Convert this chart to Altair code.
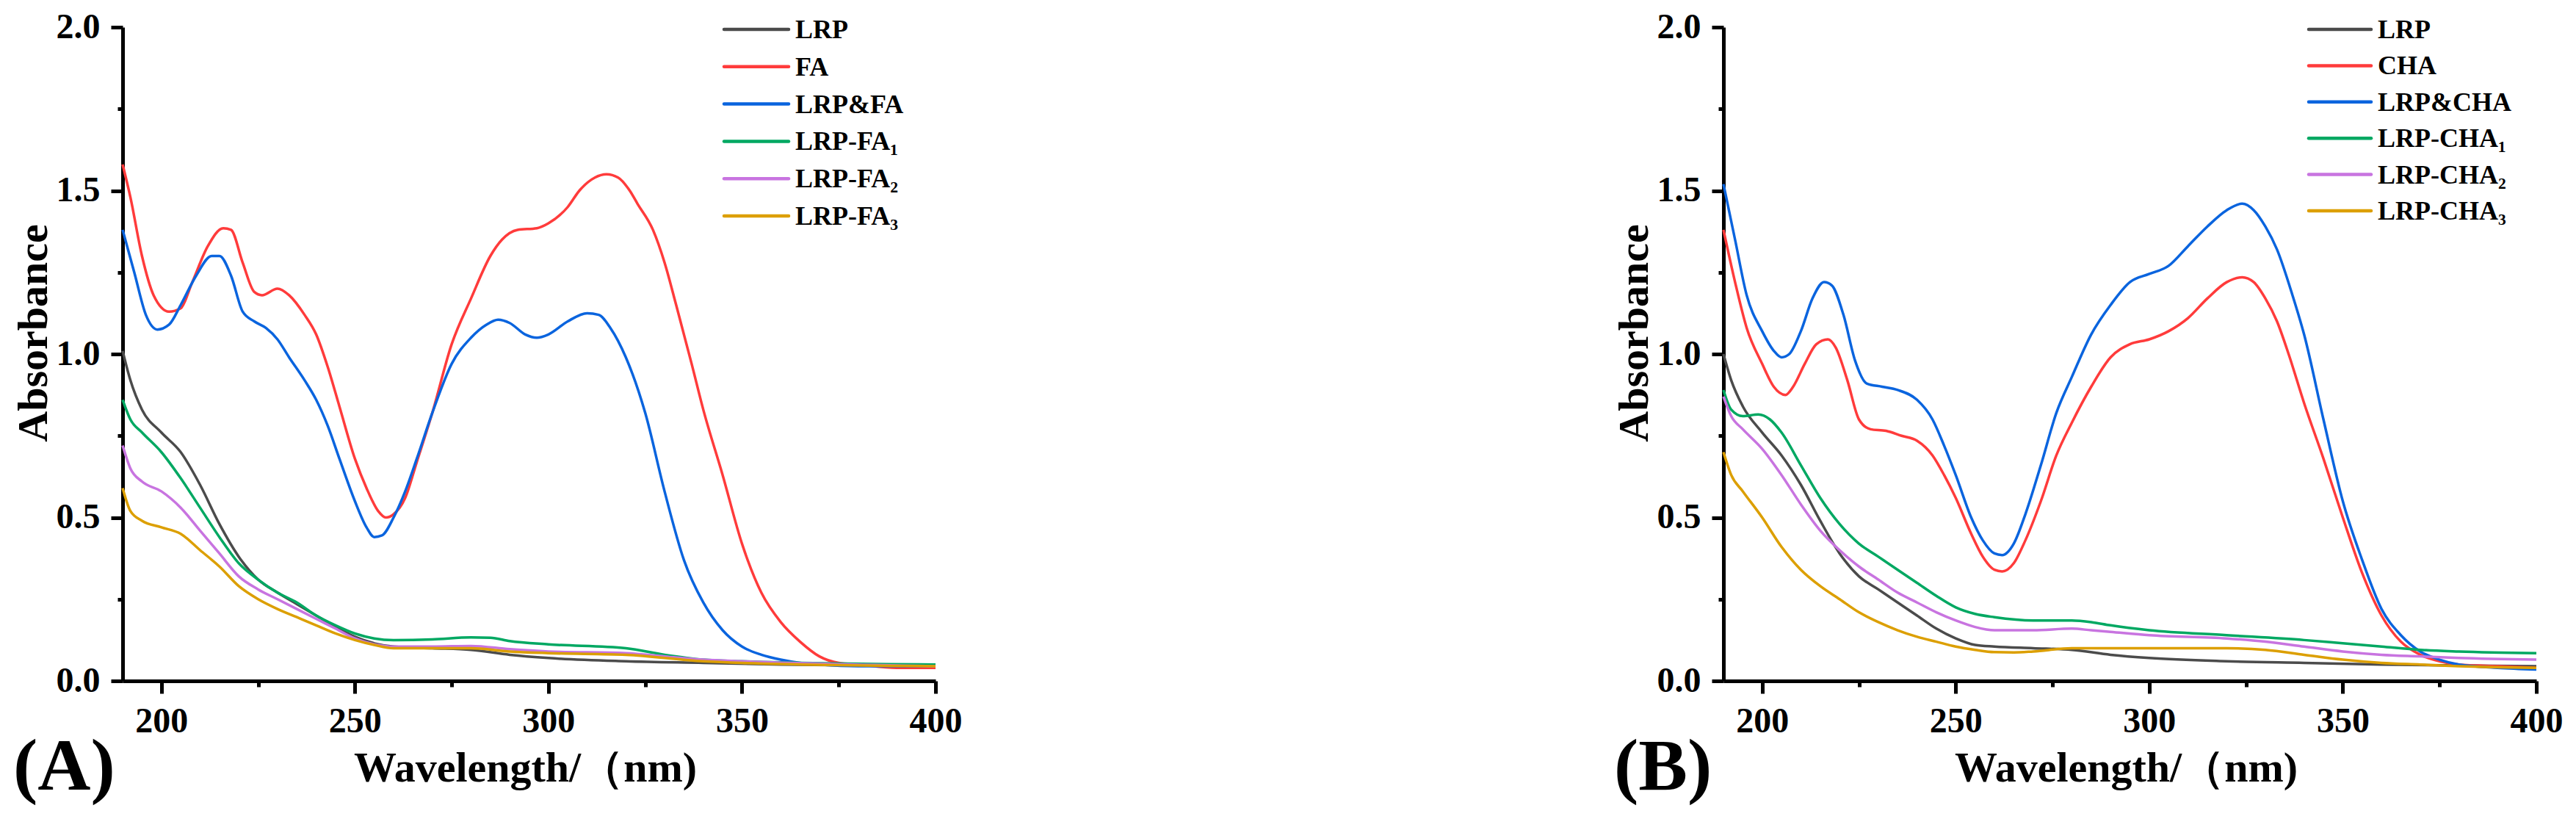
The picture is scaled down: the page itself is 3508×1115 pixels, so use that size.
import altair as alt
import pandas as pd

FONT = "Liberation Serif"

# ---------------- Panel A ----------------
names_a = ["LRP", "FA", "LRP&FA", "LRP-FA₁", "LRP-FA₂", "LRP-FA₃"]

wl_a_lrp = [190, 192, 195, 200, 205, 210, 215, 220, 225, 230, 235, 240, 245, 250, 255, 260, 270, 280, 290, 300, 320, 340, 360, 400]
ab_a_lrp = [1.01, 0.92, 0.83, 0.76, 0.70, 0.60, 0.48, 0.38, 0.31, 0.27, 0.235, 0.20, 0.165, 0.135, 0.115, 0.105, 0.10, 0.095, 0.08, 0.07, 0.06, 0.055, 0.05, 0.045]

wl_a_fa = [190, 192, 195, 198, 202, 205, 208, 212, 216, 218, 221, 224, 226, 230, 233, 237, 240, 243, 246, 250, 253, 256, 258, 260, 263, 266, 270, 275, 280, 285, 288, 292, 297, 300, 305, 308, 312, 315, 318, 321, 323, 327, 330, 333, 337, 340, 345, 350, 355, 360, 365, 370, 375, 380, 390, 400]
ab_a_fa = [1.58, 1.48, 1.30, 1.18, 1.13, 1.14, 1.22, 1.33, 1.385, 1.38, 1.28, 1.19, 1.18, 1.20, 1.18, 1.12, 1.06, 0.96, 0.84, 0.68, 0.59, 0.52, 0.50, 0.51, 0.56, 0.67, 0.82, 1.03, 1.17, 1.30, 1.35, 1.38, 1.385, 1.40, 1.45, 1.50, 1.54, 1.55, 1.54, 1.50, 1.46, 1.38, 1.28, 1.15, 0.97, 0.83, 0.63, 0.42, 0.27, 0.18, 0.12, 0.075, 0.055, 0.05, 0.04, 0.04]

wl_a_mix = [190, 193, 196, 199, 202, 205, 209, 213, 215, 218, 221, 224, 227, 230, 233, 237, 240, 243, 246, 250, 253, 255, 257, 260, 263, 266, 270, 275, 280, 284, 287, 290, 294, 297, 300, 305, 310, 313, 316, 320, 325, 330, 335, 340, 345, 350, 355, 360, 365, 370, 380, 400]
ab_a_mix = [1.38, 1.25, 1.12, 1.075, 1.09, 1.15, 1.24, 1.30, 1.30, 1.24, 1.13, 1.10, 1.08, 1.045, 0.99, 0.92, 0.86, 0.78, 0.68, 0.55, 0.47, 0.44, 0.445, 0.50, 0.58, 0.68, 0.82, 0.97, 1.05, 1.09, 1.105, 1.095, 1.06, 1.05, 1.06, 1.10, 1.125, 1.12, 1.08, 0.99, 0.82, 0.58, 0.37, 0.24, 0.155, 0.105, 0.08, 0.065, 0.055, 0.05, 0.045, 0.045]

wl_a_1 = [190, 192, 195, 200, 205, 210, 215, 220, 225, 230, 235, 240, 245, 250, 255, 260, 270, 280, 285, 290, 300, 320, 330, 340, 350, 400]
ab_a_1 = [0.86, 0.80, 0.76, 0.70, 0.62, 0.53, 0.44, 0.36, 0.31, 0.27, 0.24, 0.20, 0.17, 0.145, 0.13, 0.125, 0.127, 0.133, 0.132, 0.122, 0.112, 0.10, 0.08, 0.065, 0.06, 0.05]

wl_a_2 = [190, 192, 195, 200, 205, 210, 215, 220, 225, 230, 235, 240, 245, 250, 255, 260, 270, 280, 290, 300, 320, 330, 340, 350, 400]
ab_a_2 = [0.72, 0.65, 0.61, 0.58, 0.53, 0.46, 0.39, 0.32, 0.28, 0.25, 0.22, 0.19, 0.16, 0.13, 0.112, 0.105, 0.105, 0.107, 0.097, 0.09, 0.085, 0.075, 0.065, 0.06, 0.045]

wl_a_3 = [190, 192, 195, 200, 205, 210, 215, 220, 225, 230, 235, 240, 245, 250, 255, 260, 270, 280, 290, 300, 320, 340, 350, 400]
ab_a_3 = [0.59, 0.52, 0.49, 0.47, 0.45, 0.40, 0.35, 0.29, 0.25, 0.22, 0.195, 0.17, 0.145, 0.125, 0.11, 0.10, 0.10, 0.10, 0.09, 0.085, 0.08, 0.06, 0.055, 0.045]

# ---------------- Panel B ----------------
names_b = ["LRP", "CHA", "LRP&CHA", "LRP-CHA₁", "LRP-CHA₂", "LRP-CHA₃"]

wl_b_lrp = [190, 192, 195, 200, 205, 210, 215, 220, 225, 230, 235, 240, 245, 250, 255, 260, 270, 280, 290, 300, 320, 340, 360, 400]
ab_b_lrp = [1.00, 0.92, 0.84, 0.76, 0.69, 0.60, 0.49, 0.39, 0.32, 0.28, 0.24, 0.20, 0.16, 0.13, 0.11, 0.105, 0.10, 0.095, 0.08, 0.07, 0.06, 0.055, 0.05, 0.045]

wl_b_cha = [190, 193, 196, 200, 203, 206, 208, 211, 214, 217, 219, 222, 225, 228, 232, 236, 240, 244, 247, 250, 254, 257, 260, 262, 265, 268, 272, 276, 280, 285, 290, 295, 300, 305, 310, 315, 320, 324, 327, 330, 333, 336, 340, 345, 350, 355, 360, 365, 370, 375, 380, 390, 400]
ab_b_cha = [1.38, 1.22, 1.08, 0.97, 0.90, 0.875, 0.90, 0.97, 1.03, 1.045, 1.02, 0.92, 0.80, 0.77, 0.765, 0.75, 0.735, 0.69, 0.63, 0.56, 0.45, 0.38, 0.34, 0.335, 0.36, 0.43, 0.55, 0.69, 0.79, 0.90, 0.99, 1.03, 1.045, 1.07, 1.11, 1.17, 1.22, 1.235, 1.22, 1.17, 1.10, 1.00, 0.85, 0.68, 0.50, 0.33, 0.20, 0.12, 0.08, 0.06, 0.05, 0.045, 0.04]

wl_b_mix = [190, 193, 196, 200, 203, 205, 207, 210, 213, 216, 218, 221, 224, 227, 231, 235, 240, 244, 247, 250, 254, 257, 260, 262, 265, 268, 272, 276, 280, 285, 290, 295, 300, 305, 310, 315, 320, 324, 327, 330, 333, 337, 340, 345, 350, 355, 360, 365, 370, 375, 380, 390, 400]
ab_b_mix = [1.52, 1.35, 1.18, 1.07, 1.01, 0.99, 1.00, 1.07, 1.17, 1.22, 1.21, 1.12, 0.98, 0.91, 0.90, 0.89, 0.86, 0.80, 0.72, 0.63, 0.50, 0.43, 0.39, 0.385, 0.42, 0.51, 0.66, 0.82, 0.93, 1.06, 1.15, 1.22, 1.245, 1.27, 1.33, 1.39, 1.44, 1.46, 1.44, 1.39, 1.32, 1.18, 1.06, 0.80, 0.55, 0.37, 0.22, 0.14, 0.09, 0.065, 0.05, 0.04, 0.035]

wl_b_1 = [190, 192, 195, 199, 202, 205, 210, 215, 220, 225, 230, 235, 240, 245, 250, 255, 260, 270, 280, 285, 290, 300, 320, 340, 350, 360, 370, 380, 400]
ab_b_1 = [0.89, 0.83, 0.81, 0.815, 0.80, 0.76, 0.66, 0.56, 0.48, 0.42, 0.38, 0.34, 0.30, 0.26, 0.225, 0.205, 0.195, 0.185, 0.185, 0.18, 0.17, 0.155, 0.14, 0.125, 0.115, 0.105, 0.095, 0.09, 0.085]

wl_b_2 = [190, 192, 195, 200, 205, 210, 215, 220, 225, 230, 235, 240, 245, 250, 255, 260, 270, 280, 285, 290, 300, 320, 330, 340, 350, 360, 370, 380, 400]
ab_b_2 = [0.87, 0.81, 0.77, 0.71, 0.63, 0.54, 0.46, 0.40, 0.35, 0.31, 0.27, 0.24, 0.21, 0.185, 0.165, 0.155, 0.155, 0.16, 0.155, 0.15, 0.14, 0.13, 0.12, 0.105, 0.09, 0.08, 0.075, 0.07, 0.065]

wl_b_3 = [190, 192, 195, 200, 205, 210, 215, 220, 225, 230, 235, 240, 245, 250, 255, 260, 265, 270, 280, 290, 300, 320, 330, 340, 350, 360, 370, 380, 400]
ab_b_3 = [0.70, 0.63, 0.58, 0.50, 0.41, 0.34, 0.29, 0.25, 0.21, 0.18, 0.155, 0.135, 0.12, 0.105, 0.095, 0.088, 0.087, 0.09, 0.10, 0.10, 0.10, 0.10, 0.095, 0.08, 0.065, 0.055, 0.05, 0.045, 0.04]

colors = ["#4b4b4b", "#ff3b3b", "#0a64de", "#00a862", "#c874e0", "#dc9f00"]

x_ticks = [200, 225, 250, 275, 300, 325, 350, 375, 400]
y_ticks = [0.0, 0.25, 0.5, 0.75, 1.0, 1.25, 1.5, 1.75, 2.0]

W, H = 1107, 890


def frame(names, series):
    rows = []
    for name, (wl, ab) in zip(names, series):
        for w, a in zip(wl, ab):
            rows.append({"wl": w, "A": a, "series": name})
    return pd.DataFrame(rows)


def panel(names, series, tag, leg_x0, leg_x1, leg_xt, leg_y0, leg_y1):
    df = frame(names, series)
    cscale = alt.Scale(domain=names, range=colors)
    x_axis = alt.Axis(
        values=x_ticks,
        title="Wavelength/（nm)",
        labelExpr="datum.value % 50 === 0 ? datum.label : ''",
        tickSize={"condition": {"test": "datum.value % 50 === 0", "value": 17}, "value": 8},
        labelPadding=14,
        titleX=548, titleY=136, titleBaseline="alphabetic", titleAlign="center",
    )
    y_axis = alt.Axis(
        values=y_ticks,
        title="Absorbance",
        labelExpr="abs(datum.value*2 - round(datum.value*2)) < 1e-6 ? format(datum.value, '.1f') : ''",
        tickSize={"condition": {"test": "abs(datum.value*2 - round(datum.value*2)) < 1e-6", "value": 16}, "value": 7},
        labelPadding=15,
        titleX=-104, titleY=416, titleBaseline="alphabetic", titleAlign="center", titleAngle=270,
    )
    lines = alt.Chart(df).mark_line(strokeWidth=3.5, interpolate="monotone").encode(
        x=alt.X("wl:Q", scale=alt.Scale(domain=[190, 400], nice=False, zero=False), axis=x_axis),
        y=alt.Y("A:Q", scale=alt.Scale(domain=[0, 2], nice=False, zero=False), axis=y_axis),
        color=alt.Color("series:N", scale=cscale, legend=None),
        detail="series:N",
    )
    leg_df = pd.DataFrame({"series": names})
    ysc = alt.Scale(type="point", domain=names, range=[leg_y0, leg_y1], padding=0)
    leg_rules = alt.Chart(leg_df).mark_rule(strokeWidth=4.5, strokeCap="round").encode(
        x=alt.value(leg_x0), x2=alt.value(leg_x1),
        y=alt.Y("series:N", scale=ysc, axis=None),
        color=alt.Color("series:N", scale=cscale, legend=None),
    )
    leg_text = alt.Chart(leg_df).mark_text(
        align="left", baseline="middle", dy=1, font=FONT, fontWeight="bold", fontSize=36, color="black"
    ).encode(
        x=alt.value(leg_xt),
        y=alt.Y("series:N", scale=ysc, axis=None),
        text="series:N",
    )
    tag_df = pd.DataFrame({"t": [tag]})
    tag_text = alt.Chart(tag_df).mark_text(
        align="left", baseline="alphabetic", font=FONT, fontWeight="bold", fontSize=100, color="black"
    ).encode(x=alt.value(-149), y=alt.value(1038), text="t:N")
    return alt.layer(lines, leg_rules, leg_text, tag_text).resolve_scale(y="independent").properties(width=W, height=H)


chart_a = panel(
    names_a,
    [(wl_a_lrp, ab_a_lrp), (wl_a_fa, ab_a_fa), (wl_a_mix, ab_a_mix), (wl_a_1, ab_a_1), (wl_a_2, ab_a_2), (wl_a_3, ab_a_3)],
    "(A)", 819, 907, 916, 3, 257,
)
chart_b = panel(
    names_b,
    [(wl_b_lrp, ab_b_lrp), (wl_b_cha, ab_b_cha), (wl_b_mix, ab_b_mix), (wl_b_1, ab_b_1), (wl_b_2, ab_b_2), (wl_b_3, ab_b_3)],
    "(B)", 797, 882, 891, 3, 250,
)

chart = alt.hconcat(chart_a, chart_b, spacing=1073, bounds="flush").resolve_scale(
    color="independent", y="independent", x="independent"
).configure_view(stroke=None).configure_axis(
    domainColor="black", domainWidth=5, tickColor="black", tickWidth=5, grid=False,
    labelFont=FONT, labelFontWeight="bold", labelFontSize=48, labelColor="black",
    titleFont=FONT, titleFontWeight="bold", titleFontSize=58, titleColor="black",
    labelOverlap=False, labelBound=False, labelFlush=False,
).properties(
    padding={"left": 9, "top": 5, "right": 5, "bottom": 5}, background="white"
)

chart.save("out.html", embed_options={"renderer": "svg", "actions": False})
